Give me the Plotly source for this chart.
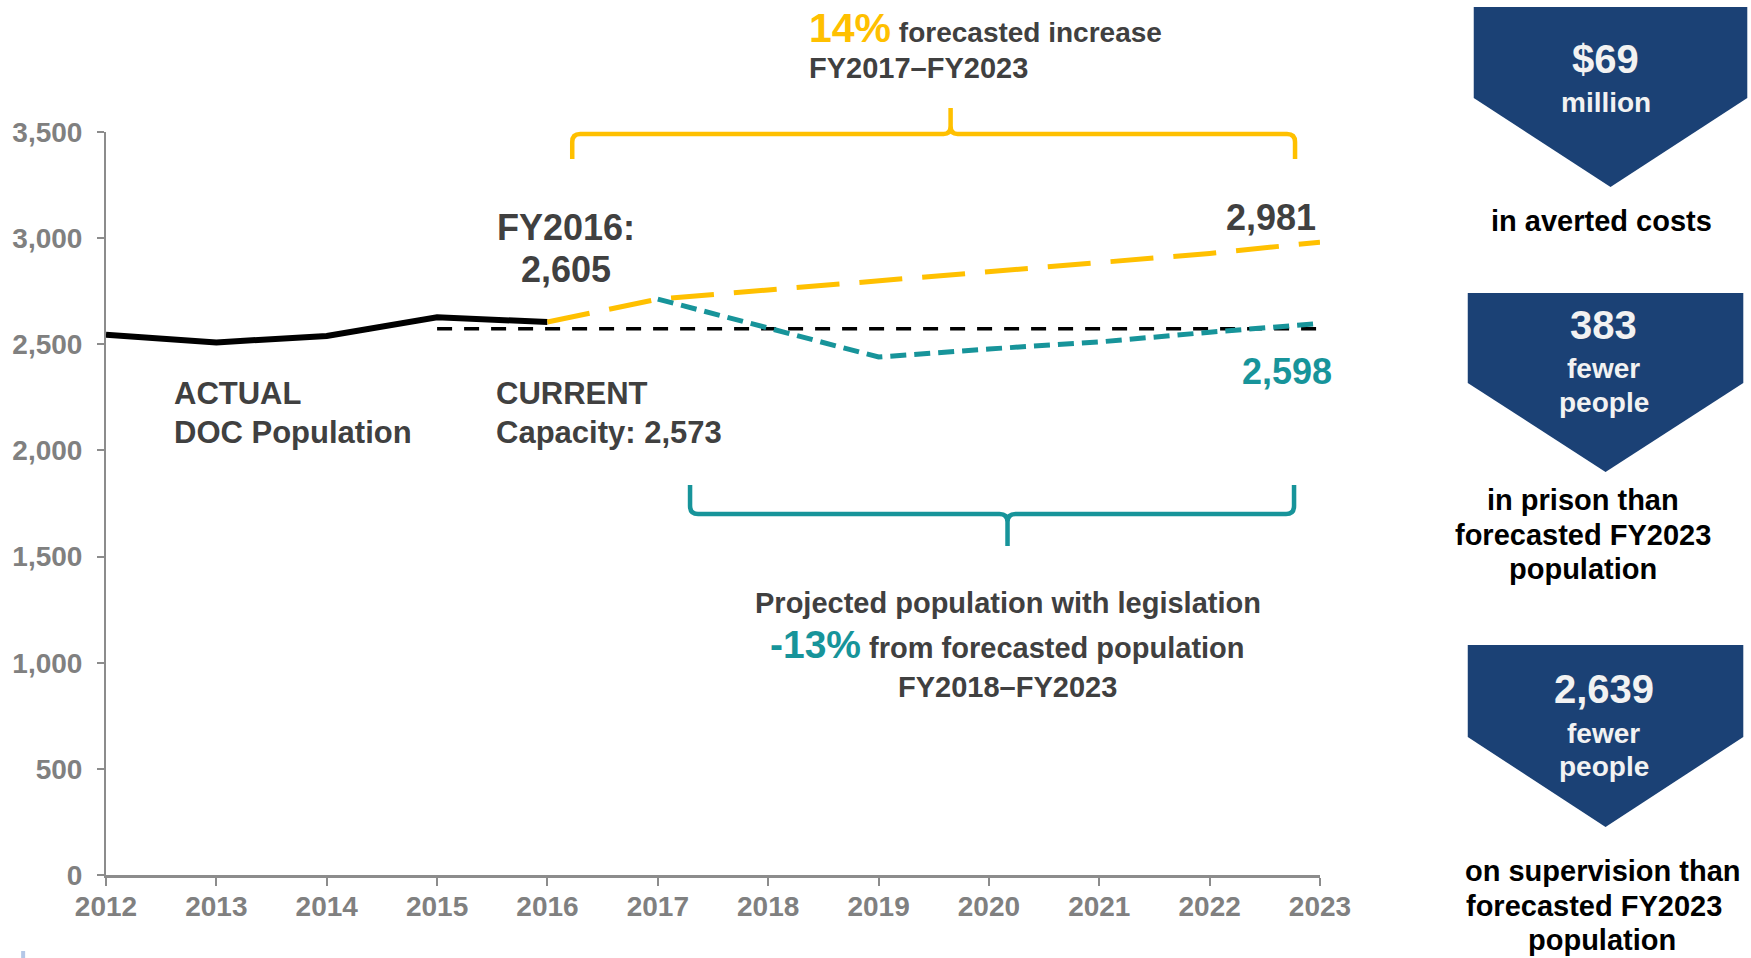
import plotly.graph_objects as go

# ---------------- data ----------------
years_actual = [2012, 2013, 2014, 2015, 2016]
actual_pop = [2545, 2509, 2539, 2627, 2605]

years_forecast = [2016, 2017, 2018, 2019, 2020, 2021, 2022, 2023]
forecast_pop = [2605, 2713, 2756, 2798, 2840, 2882, 2928, 2981]

years_legislation = [2017, 2018, 2019, 2020, 2021, 2022, 2023]
legislation_pop = [2713, 2576, 2440, 2478, 2511, 2557, 2598]

years_capacity = [2015, 2023]
capacity_pop = [2573, 2573]

x_ticks = list(range(2012, 2024))
y_ticks = [0, 500, 1000, 1500, 2000, 2500, 3000, 3500]
y_tick_labels = ["0", "500", "1,000", "1,500", "2,000", "2,500", "3,000", "3,500"]

# ---------------- layout helpers ----------------
W, H = 1751, 958
PL, PR, PT, PB = 104, 1320, 132, 875  # plot area in pixels

def px(x):
    return (x - PL) / (PR - PL)

def py(y):
    return (PB - y) / (PB - PT)

FONT = "Liberation Sans, Arial, Helvetica, sans-serif"
DARK = "#404040"
GREY = "#808080"
YELLOW = "#FFC000"
TEAL = "#17949A"
NAVY = "#1B4175"

fig = go.Figure()

fig.add_trace(go.Scatter(x=years_capacity, y=capacity_pop, mode="lines",
                         line=dict(color="black", width=3.5, dash="15px,12px"),
                         hoverinfo="skip", showlegend=False))
fig.add_trace(go.Scatter(x=years_actual, y=actual_pop, mode="lines",
                         line=dict(color="black", width=6),
                         showlegend=False))
fig.add_trace(go.Scatter(x=years_forecast, y=forecast_pop, mode="lines",
                         line=dict(color=YELLOW, width=5, dash="43px,20px"),
                         showlegend=False))
fig.add_trace(go.Scatter(x=years_legislation, y=legislation_pop, mode="lines",
                         line=dict(color=TEAL, width=5, dash="16px,8px"),
                         showlegend=False))

ann = []

def text(xp, yp, t, size, color=DARK, xanchor="center", yanchor="middle", align="center"):
    ann.append(dict(x=px(xp), y=py(yp), xref="paper", yref="paper", text=t,
                    showarrow=False, xanchor=xanchor, yanchor=yanchor, align=align,
                    font=dict(family=FONT, size=size, color=color, weight="bold")))

# chart annotations
text(806, 28, f"<span style='font-size:41px;color:{YELLOW}'>14%</span> forecasted increase", 28, xanchor="left", align="left")
text(806, 68, "FY2017–FY2023", 29, xanchor="left", align="left")
text(565, 227, "FY2016:", 36)
text(565, 269, "2,605", 36)
text(170, 393, "ACTUAL", 31, xanchor="left")
text(170, 432, "DOC Population", 31, xanchor="left")
text(493, 393, "CURRENT", 31, xanchor="left")
text(493, 432, "Capacity: 2,573", 31, xanchor="left")
text(1318, 217, "2,981", 36, xanchor="right")
text(1334, 371, "2,598", 36, color=TEAL, xanchor="right")
text(1007, 603, "Projected population with legislation", 29)
text(1007, 645, f"<span style='font-size:39px;color:{TEAL}'>-13%</span> from forecasted population", 29)
text(1007, 687, "FY2018–FY2023", 29)

# right panel texts
WHITE = "#F2F2F2"
text(1606, 59, "$69", 40, color=WHITE)
text(1606, 102, "million", 28, color=WHITE)
text(1602, 221, "in averted costs", 29, color="black")
text(1604, 325, "383", 40, color=WHITE)
text(1604, 368, "fewer", 28, color=WHITE)
text(1604, 402, "people", 28, color=WHITE)
text(1583, 500, "in prison than", 29, color="black")
text(1583, 535, "forecasted FY2023", 29, color="black")
text(1583, 569, "population", 29, color="black")
text(1604, 689, "2,639", 40, color=WHITE)
text(1604, 733, "fewer", 28, color=WHITE)
text(1604, 766, "people", 28, color=WHITE)
text(1603, 871, "on supervision than", 29, color="black")
text(1594, 906, "forecasted FY2023", 29, color="black")
text(1602, 940, "population", 29, color="black")

shapes = []

def path_from(points_cmds):
    out = []
    for c in points_cmds:
        if isinstance(c, str):
            out.append(c)
        else:
            out.append(f"{px(c[0]):.5f},{py(c[1]):.5f}")
    return " ".join(out)

def chevron(left, right, top, side, tipx, tipy):
    p = path_from(["M", (left, top), "L", (right, top), "L", (right, side), "L", (tipx, tipy),
                   "L", (left, side), "Z"])
    shapes.append(dict(type="path", path=p, xref="paper", yref="paper",
                       fillcolor=NAVY, line=dict(width=0), layer="below"))

chevron(1474, 1748, 7, 98, 1611, 187)
chevron(1468, 1744, 293, 383, 1606, 472)
chevron(1468, 1744, 645, 737, 1606, 827)

# yellow brace (opening downward)
yb = path_from(["M", (571, 159), "L", (571, 142), "Q", (571, 134), (579, 134), "L", (943, 134),
                "Q", (950, 134), (950, 126), "L", (950, 108),
                "M", (950, 126), "Q", (950, 134), (957, 134), "L", (1287, 134),
                "Q", (1295, 134), (1295, 142), "L", (1295, 159)])
shapes.append(dict(type="path", path=yb, xref="paper", yref="paper",
                   line=dict(color=YELLOW, width=4.5)))

# teal brace (opening upward)
tb = path_from(["M", (689, 485), "L", (689, 506), "Q", (689, 514), (697, 514), "L", (999, 514),
                "Q", (1007, 514), (1007, 522), "L", (1007, 546),
                "M", (1007, 522), "Q", (1007, 514), (1015, 514), "L", (1286, 514),
                "Q", (1294, 514), (1294, 506), "L", (1294, 485)])
shapes.append(dict(type="path", path=tb, xref="paper", yref="paper",
                   line=dict(color=TEAL, width=4.5)))

# tiny light-blue mark at bottom left
shapes.append(dict(type="rect", x0=px(19), x1=px(23), y0=py(958), y1=py(951),
                   xref="paper", yref="paper", fillcolor="#B4C7E7", line=dict(width=0)))

fig.update_layout(
    width=W, height=H,
    margin=dict(l=PL, r=W - PR, t=PT, b=H - PB, pad=0),
    paper_bgcolor="white", plot_bgcolor="white",
    showlegend=False,
    annotations=ann, shapes=shapes,
    xaxis=dict(range=[2012, 2023], tickmode="array", tickvals=x_ticks,
               ticktext=[str(v) for v in x_ticks],
               showgrid=False, zeroline=False, showline=True, linecolor="#8C8C8C", linewidth=3,
               ticks="outside", ticklen=8, tickwidth=1.5, tickcolor="#8C8C8C",
               tickfont=dict(family=FONT, size=28, color=GREY, weight="bold"),
               ticklabelstandoff=-4, fixedrange=True),
    yaxis=dict(range=[0, 3500], tickmode="array", tickvals=y_ticks, ticktext=y_tick_labels,
               showgrid=False, zeroline=False, showline=True, linecolor="#8C8C8C", linewidth=2,
               ticks="outside", ticklen=7, tickwidth=1.5, tickcolor="#8C8C8C",
               tickfont=dict(family=FONT, size=28, color=GREY, weight="bold"),
               ticklabelstandoff=9, fixedrange=True),
)

fig.write_html("out.html", config={"displayModeBar": False},
               post_script="document.body.style.margin='0';document.body.style.overflow='hidden';")
